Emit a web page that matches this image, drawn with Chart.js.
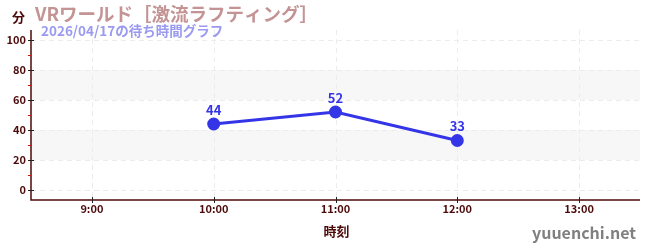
<!DOCTYPE html>
<html><head><meta charset="utf-8">
<script src="https://cdn.jsdelivr.net/npm/chart.js@4/dist/chart.umd.min.js"></script>
<style>html,body{margin:0;padding:0;background:#fff}#wrap{width:650px;height:250px}</style>
</head><body><div id="wrap"><canvas id="c" width="650" height="250"></canvas></div>
<script>
const times = [10, 11, 12];
const waits = [44, 52, 33];
const xTicks = [9, 10, 11, 12, 13];
const yTicks = [0, 20, 40, 60, 80, 100];
const yMinor = [10, 30, 50, 70, 90];
const bands = [[20, 40], [60, 80]];
const titleText = 'VRワールド［激流ラフティング］';
const subText = '2026/04/17の待ち時間グラフ';
const unitText = '分';
const xTitle = '時刻';
const mark = 'yuuenchi.net';

const F = '"Noto Sans CJK JP", "Noto Sans", sans-serif';
const axisCol = '#4d0a0a';

const deco = {
  id: 'deco',
  beforeDatasetsDraw(chart) {
    const {ctx, chartArea: a, scales: {x, y}} = chart;
    ctx.save();
    ctx.fillStyle = '#f7f7f7';
    bands.forEach(([lo, hi]) => {
      const t = y.getPixelForValue(hi), b = y.getPixelForValue(lo);
      ctx.fillRect(a.left, t, a.right - a.left, b - t);
    });
    ctx.strokeStyle = '#ececec';
    ctx.lineWidth = 1;
    ctx.setLineDash([5, 4]);
    yTicks.forEach(v => {
      const p = Math.round(y.getPixelForValue(v)) + 0.5;
      ctx.beginPath(); ctx.moveTo(a.left, p); ctx.lineTo(a.right, p); ctx.stroke();
    });
    xTicks.forEach(v => {
      const p = Math.round(x.getPixelForValue(v)) + 0.5;
      ctx.beginPath(); ctx.moveTo(p, a.top); ctx.lineTo(p, a.bottom); ctx.stroke();
    });
    ctx.setLineDash([]);
    ctx.strokeStyle = axisCol; ctx.lineWidth = 1.5;
    ctx.beginPath(); ctx.moveTo(a.left, a.top); ctx.lineTo(a.left, a.bottom); ctx.lineTo(a.right, a.bottom); ctx.stroke();
    ctx.lineWidth = 1;
    ctx.strokeStyle = '#222';
    yTicks.forEach(v => {
      const p = Math.round(y.getPixelForValue(v)) + 0.5;
      ctx.beginPath(); ctx.moveTo(a.left - 3, p); ctx.lineTo(a.left + 3, p); ctx.stroke();
    });
    ctx.strokeStyle = '#d01010';
    yMinor.forEach(v => {
      const p = Math.round(y.getPixelForValue(v)) + 0.5;
      ctx.beginPath(); ctx.moveTo(a.left - 3, p); ctx.lineTo(a.left, p); ctx.stroke();
    });
    ctx.strokeStyle = '#222';
    xTicks.forEach(v => {
      const p = Math.round(x.getPixelForValue(v)) + 0.5;
      ctx.beginPath(); ctx.moveTo(p, a.bottom - 3); ctx.lineTo(p, a.bottom + 3); ctx.stroke();
    });
    ctx.restore();
  },
  afterDraw(chart) {
    const {ctx, chartArea: a} = chart;
    ctx.save();
    ctx.textBaseline = 'middle';
    ctx.fillStyle = axisCol;
    ctx.font = 'bold 13px ' + F;
    ctx.textAlign = 'left';
    ctx.fillText(unitText, 12, 17);
    ctx.fillStyle = '#c49494';
    ctx.font = 'bold 18.5px ' + F;
    ctx.fillText(titleText, 35, 14);
    ctx.fillStyle = '#9a9af0';
    ctx.font = 'bold 13.5px ' + F;
    ctx.fillText(subText, 41, 31);
    ctx.fillStyle = axisCol;
    ctx.font = 'bold 13px ' + F;
    ctx.textAlign = 'center';
    ctx.fillText(xTitle, (a.left + a.right) / 2 + 1, 231);
    ctx.fillStyle = '#808080';
    ctx.font = 'bold 16px ' + F;
    ctx.textAlign = 'right';
    ctx.fillText(mark, 636, 233);
    const meta = chart.getDatasetMeta(0);
    ctx.fillStyle = '#3535e8';
    ctx.font = 'bold 13px ' + F;
    ctx.textAlign = 'center';
    meta.data.forEach((pt, i) => {
      ctx.fillText(String(waits[i]), pt.x, pt.y - 14);
    });
    ctx.restore();
  }
};

new Chart(document.getElementById('c'), {
  type: 'line',
  data: { datasets: [{
    data: times.map((t, i) => ({x: t, y: waits[i]})),
    borderColor: '#3535e8', backgroundColor: '#3535e8',
    borderWidth: 3, pointRadius: 5, pointHoverRadius: 5, tension: 0
  }]},
  options: {
    responsive: false, animation: false,
    layout: { padding: { top: 30, right: 10, left: 0, bottom: 0 } },
    plugins: { legend: { display: false }, tooltip: { enabled: false } },
    scales: {
      x: {
        type: 'linear', min: 8.5, max: 13.5,
        afterBuildTicks: s => { s.ticks = xTicks.map(v => ({value: v})); },
        afterFit: s => { s.height = 50; },
        grid: { display: false, drawTicks: false },
        border: { display: false },
        ticks: { color: axisCol, padding: 2, font: { family: F, size: 11, weight: 'bold' }, maxRotation: 0,
                 callback: v => v + ':00' }
      },
      y: {
        min: -6.7, max: 106.7,
        afterBuildTicks: s => { s.ticks = yTicks.map(v => ({value: v})); },
        afterFit: s => { s.width = 31; },
        grid: { display: false, drawTicks: false },
        border: { display: false },
        ticks: { color: axisCol, padding: 5, font: { family: F, size: 11, weight: 'bold' } }
      }
    }
  },
  plugins: [deco]
});
</script></body></html>
